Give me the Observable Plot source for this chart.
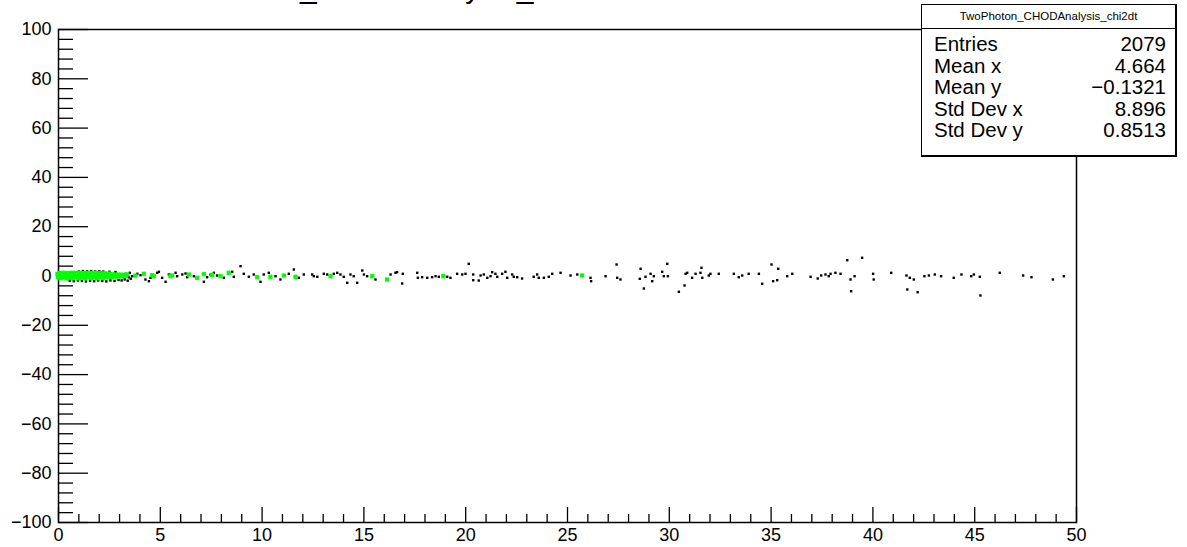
<!DOCTYPE html>
<html>
<head>
<meta charset="utf-8">
<script src="https://cdn.jsdelivr.net/npm/d3@7"></script>
<script src="https://cdn.jsdelivr.net/npm/@observablehq/plot@0.6"></script>
<style>
  html, body { margin: 0; padding: 0; background: #fff; overflow: hidden; }
  #wrap { position: relative; width: 1187px; height: 547px; font-family: "Liberation Sans", Arial, sans-serif; }
  #title { position: absolute; left: 150px; top: -27px; font-size: 30px; line-height: 30px; white-space: nowrap; color: #000; }
  #stats { position: absolute; left: 921px; top: 4px; width: 253px; height: 150px; background: #fff;
           border: 1px solid #000; border-right-width: 2px; border-bottom-width: 2px; }
  #stats .head { height: 23px; border-bottom: 1px solid #000; font-size: 11.5px; text-align: center; line-height: 23px; margin-bottom: 4px; }
  #stats .row { display: flex; justify-content: space-between; padding: 0 9px 0 12px; font-size: 20.5px; line-height: 21.6px; }
</style>
</head>
<body>
<div id="wrap">
  <div id="title"></div>
  <div id="chart"></div>
  <div id="stats"></div>
</div>
<script>
// ---- data ----
const titleText = "TwoPhoton_CHODAnalysis_chi2dt";
const histName = "TwoPhoton_CHODAnalysis_chi2dt";
const statLabels = ["Entries", "Mean x", "Mean y", "Std Dev x", "Std Dev y"];
const statValues = ["2079", "4.664", "\u22120.1321", "8.896", "0.8513"];

const xMajor = [0, 5, 10, 15, 20, 25, 30, 35, 40, 45, 50];
const xMinor = [1,2,3,4,6,7,8,9,11,12,13,14,16,17,18,19,21,22,23,24,26,27,28,29,31,32,33,34,36,37,38,39,41,42,43,44,46,47,48,49];
const yMajor = [-100, -80, -60, -40, -20, 0, 20, 40, 60, 80, 100];
const yMinor = [-96,-92,-88,-84,-76,-72,-68,-64,-56,-52,-48,-44,-36,-32,-28,-24,-16,-12,-8,-4,4,8,12,16,24,28,32,36,44,48,52,56,64,68,72,76,84,88,92,96];

// black markers (all entries)
const blackX = [
  1.0,1.2,1.4,1.6,1.8,2.0,2.2,2.5,2.8,
  0.55,0.75,0.95,1.15,1.35,1.55,1.75,1.95,2.15,2.35,2.55,2.75,2.95,3.1,3.25,3.4,3.55,
  3.3,3.45,3.5,
  3.62,3.87,4.03,4.27,4.44,4.52,4.85,4.93,5.09,5.26,5.42,5.75,5.83,6.08,6.24,6.32,6.65,7.14,7.30,7.47,7.63,7.79,
  8.12,8.36,8.53,8.61,8.94,9.10,9.35,9.59,9.92,10.08,10.33,10.66,10.90,11.31,11.56,11.80,12.05,12.46,12.54,12.71,
  13.03,13.20,13.52,13.69,13.85,14.01,14.18,14.34,14.50,14.67,14.92,15.00,15.16,15.57,16.31,16.55,16.63,16.91,16.88,
  17.62,17.65,17.86,18.11,18.35,18.52,18.68,19.09,19.25,19.58,19.83,19.99,20.15,20.37,20.37,20.64,20.73,20.89,21.06,
  21.22,21.30,21.46,21.55,21.79,21.95,22.04,22.28,22.36,22.53,22.77,23.34,23.51,23.59,23.84,24.08,24.25,24.66,25.15,
  25.48,26.13,26.16,26.87,27.41,27.44,27.60,28.59,28.55,28.75,28.83,29.08,29.16,29.24,29.65,29.73,29.90,29.93,
  30.47,30.75,30.80,30.88,31.12,31.29,31.53,31.58,31.62,31.94,32.02,32.43,33.17,33.41,33.58,33.90,34.40,34.56,
  35.02,35.10,35.30,35.35,35.79,36.04,36.94,37.29,37.46,37.67,37.83,37.92,38.16,38.41,38.74,38.93,38.90,39.10,39.47,
  40.01,40.04,40.90,41.65,41.69,41.81,42.01,42.20,42.53,42.75,43.04,43.35,43.97,44.35,44.83,44.96,45.25,45.28,
  46.23,47.38,47.79,48.84,49.38
];
const blackY = [
  1.8,2.0,1.9,2.0,1.8,1.9,1.8,1.7,1.6,
  -1.9,-2.1,-1.8,-2.0,-2.2,-1.9,-2.1,-1.8,-2.0,-2.2,-1.8,-2.0,-1.6,-1.8,-1.4,-1.9,-1.1,
  0.9,-0.5,1.3,
  -0.08,0.89,0.32,-1.42,-2.11,-0.73,1.30,1.70,-0.73,-2.35,0.61,1.30,-0.08,0.61,1.01,-0.49,-0.08,-2.35,-0.49,0.61,1.30,0.20,
  -0.73,0.89,1.70,-0.32,3.98,0.89,-0.32,0.61,-2.35,0.61,1.30,-0.08,-1.42,0.89,2.64,-0.73,0.61,0.61,-0.08,-0.32,
  0.89,0.61,0.89,1.30,0.61,-0.32,-2.76,0.61,-0.08,-2.76,2.23,0.61,-0.08,-1.42,0.61,1.30,1.54,0.89,-3.04,
  1.30,-0.73,-0.49,-0.73,-0.49,-0.08,-0.32,-0.32,-0.73,0.89,0.61,0.89,4.95,0.61,-1.70,-1.83,0.20,0.61,-0.73,
  -0.08,1.54,0.89,-0.32,0.89,1.70,-0.73,0.61,-0.32,-0.49,-1.01,-0.32,0.61,-0.73,-0.73,-0.32,0.89,1.30,0.20,
  0.61,-0.73,-2.11,-0.08,4.67,-0.73,-1.42,2.92,-1.14,-5.07,-0.32,0.89,-2.11,-0.08,1.70,-0.08,4.95,-0.08,
  -6.41,-3.85,0.89,1.30,-0.73,0.89,1.30,3.33,-0.73,0.20,0.89,0.89,0.89,-0.49,0.20,0.89,0.89,-3.16,
  4.67,-2.11,-1.70,2.92,-0.08,0.89,-0.32,-1.01,0.20,0.61,-0.08,0.89,1.30,0.89,6.41,-6.17,-1.42,-0.08,7.38,
  0.89,-1.42,1.30,0.20,-5.48,-0.73,-1.42,-6.57,-0.08,0.20,0.61,-0.08,-0.73,0.61,-0.08,0.61,-0.32,-7.91,
  1.30,0.20,-0.49,-1.42,-0.08
];

// green markers (selected entries)
const greenX = [
  -0.05,0.08,0.2,0.33,0.46,0.59,0.72,0.85,0.98,1.11,1.24,1.37,1.5,1.63,1.76,1.89,2.02,2.15,2.28,2.41,2.54,2.67,2.8,2.94,3.08,3.2,
  -0.03,0.1,0.23,0.36,0.49,0.62,0.75,0.88,1.01,1.14,1.27,1.4,1.53,1.66,1.79,1.92,2.05,2.18,2.31,2.44,2.57,2.7,2.84,2.98,3.12,3.25,
  0.0,0.15,0.3,0.45,0.6,0.75,0.9,1.05,1.2,1.35,1.5,1.65,1.8,1.95,2.1,2.25,2.4,2.55,2.7,2.85,3.0,
  0.05,0.25,0.45,0.65,0.85,1.05,1.25,1.45,1.65,1.85,2.05,2.25,2.45,
  0.1,0.4,0.7,1.0,1.3,1.6,1.9,2.2,
  3.37,3.78,4.19,4.60,4.68,5.50,5.58,6.40,6.81,7.14,7.55,7.96,8.36,9.76,10.41,11.07,11.64,13.36,15.41,16.14,18.90,25.72
];
const greenY = [
  0.85,0.9,0.8,0.9,0.85,0.9,0.8,0.85,0.9,0.85,0.8,0.9,0.85,0.8,0.9,0.85,0.8,0.75,0.8,0.7,0.75,0.65,0.6,0.55,0.5,0.4,
  -0.45,-0.5,-0.4,-0.5,-0.45,-0.5,-0.4,-0.45,-0.5,-0.45,-0.4,-0.5,-0.45,-0.4,-0.5,-0.45,-0.4,-0.35,-0.4,-0.3,-0.35,-0.25,-0.2,-0.15,-0.1,0.0,
  0.2,0.15,0.25,0.2,0.15,0.2,0.25,0.2,0.15,0.2,0.2,0.15,0.2,0.25,0.2,0.15,0.2,0.15,0.2,0.15,0.2,
  1.25,1.3,1.2,1.3,1.25,1.3,1.2,1.25,1.3,1.2,1.15,1.1,1.0,
  -0.95,-1.0,-0.9,-1.0,-0.95,-0.9,-0.95,-0.8,
  0.61,0.20,0.89,0.32,-0.08,-0.08,0.20,0.61,-0.73,0.73,0.49,-0.08,1.30,-0.49,-0.32,0.20,-0.32,-0.08,-0.08,-1.42,-0.08,0.20
];

// ---- build ----
const black = blackX.map((x, i) => ({x, y: blackY[i]}));
const green = greenX.map((x, i) => ({x, y: greenY[i]}));
const fmt = d => d < 0 ? "\u2212" + Math.abs(d) : String(d);
const FONT = "Liberation Sans, Arial, sans-serif";

const chart = Plot.plot({
  width: 1187,
  height: 547,
  marginLeft: 58,
  marginRight: 111,
  marginTop: 29,
  marginBottom: 25,
  style: {fontFamily: FONT, fontSize: "18px", color: "#000", background: "#fff", overflow: "visible"},
  x: {domain: [0, 50]},
  y: {domain: [-100, 100]},
  marks: [
    Plot.axisY(yMajor, {tickSize: -30, fill: "none", strokeWidth: 1.3, label: null}),
    Plot.axisY(yMinor, {tickSize: -15, fill: "none", strokeWidth: 1.3, label: null}),
    Plot.axisY(yMajor, {tickSize: 0, tickPadding: 7, tickFormat: fmt, fontSize: 18, label: null}),
    Plot.axisX(xMajor, {tickSize: -15, fill: "none", strokeWidth: 1.3, label: null}),
    Plot.axisX(xMinor, {tickSize: -8, fill: "none", strokeWidth: 1.3, label: null}),
    Plot.axisX(xMajor, {tickSize: 0, tickPadding: 6, tickFormat: fmt, fontSize: 18, label: null}),
    Plot.frame({stroke: "#000", strokeWidth: 1.5}),
    Plot.dot(black, {x: "x", y: "y", symbol: "square", r: 1.35, fill: "#000", stroke: "none"}),
    Plot.dot(green, {x: "x", y: "y", symbol: "square", r: 2.4, fill: "#00ff00", stroke: "none"})
  ]
});
document.getElementById("chart").appendChild(chart);

document.getElementById("title").textContent = titleText;
const stats = document.getElementById("stats");
const head = document.createElement("div");
head.className = "head";
head.textContent = histName;
stats.appendChild(head);
statLabels.forEach((lab, i) => {
  const row = document.createElement("div");
  row.className = "row";
  const a = document.createElement("span"); a.textContent = lab;
  const b = document.createElement("span"); b.textContent = statValues[i];
  row.appendChild(a); row.appendChild(b);
  stats.appendChild(row);
});
</script>
</body>
</html>
